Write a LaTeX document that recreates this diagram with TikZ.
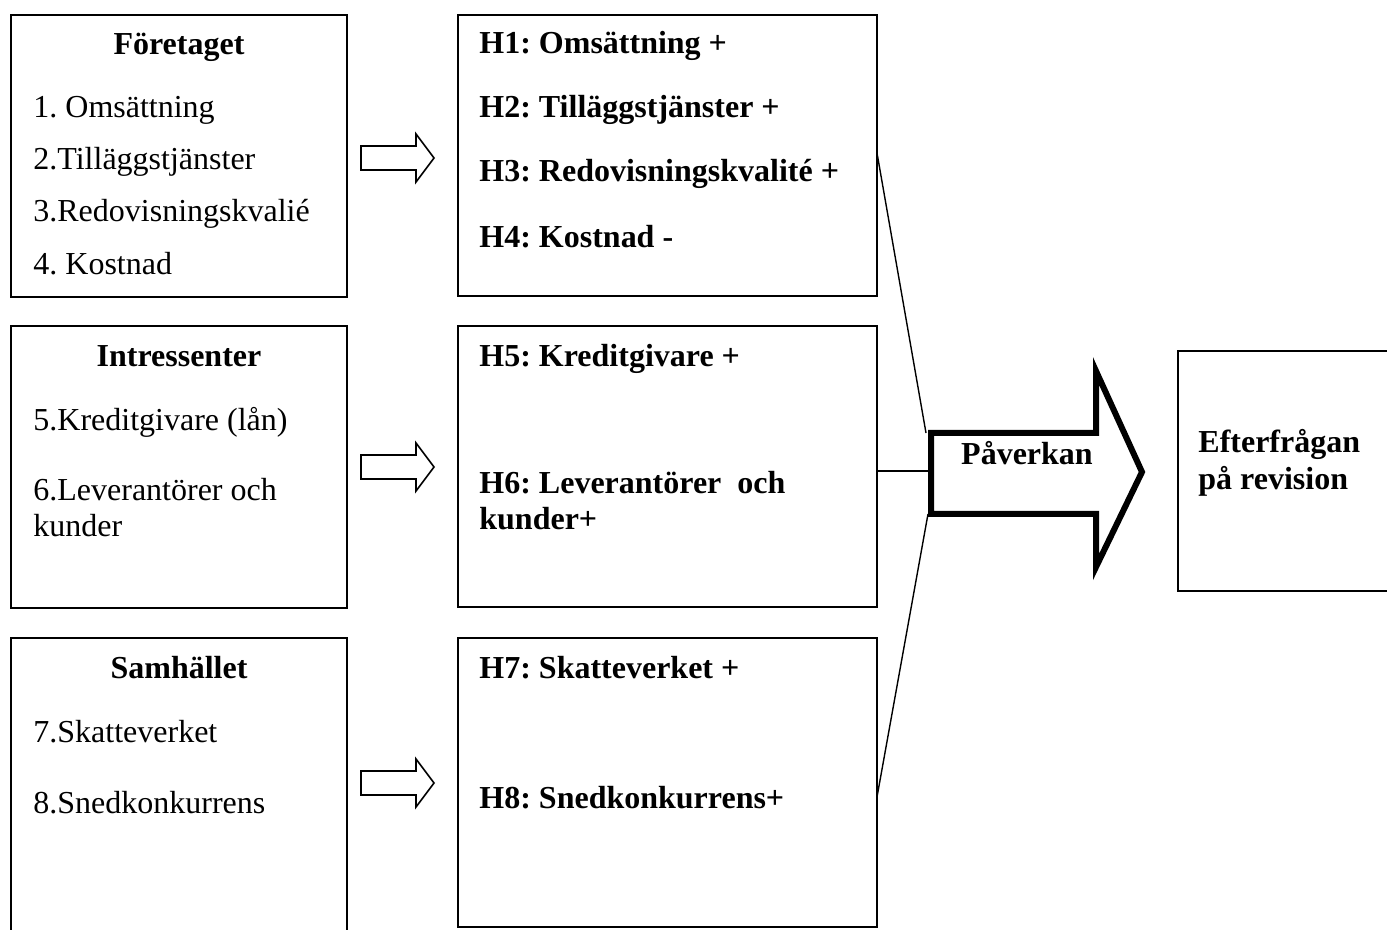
\documentclass[tikz,border=0pt]{standalone}
\usepackage{fontspec}
\setmainfont{Liberation Serif}
\usetikzlibrary{fit}
\begin{document}
\frenchspacing
\begin{tikzpicture}[x=0.5pt,y=-0.5pt,
  box/.style={draw,line width=0.8pt,inner sep=0pt},
  txt/.style={anchor=base west,inner sep=0pt,font=\fontsize{16}{19}\selectfont},
  btxt/.style={txt,font=\fontsize{16}{19}\selectfont\bfseries},
  ctxt/.style={anchor=base,inner sep=0pt,font=\fontsize{16}{19}\selectfont\bfseries},
  hollow/.style={draw,line width=0.8pt,line join=miter,fill=white},
  bigarrow/.style={draw,line width=3pt,line join=miter,miter limit=10,fill=white},
  link/.style={draw,line width=0.7pt}]
\useasboundingbox (0,0) rectangle (1387,930);

% left column: factor groups
\node[box,fit={(11,15) (347,297)}] (g1) {};
\node[box,fit={(11,326) (347,608)}] (g2) {};
\draw[line width=0.8pt] (11,935) -- (11,638) -- (347,638) -- (347,935);
\coordinate (g3) at (179,638);

\node[ctxt] (g1t) at (179,55) {Företaget};
\node[txt] (g1a) at (33,118) {1. Omsättning};
\node[txt] (g1b) at (33,170) {2.Tilläggstjänster};
\node[txt] (g1c) at (33,222) {3.Redovisningskvalié};
\node[txt] (g1d) at (33,275) {4. Kostnad};

\node[ctxt] (g2t) at (179,367) {Intressenter};
\node[txt] (g2a) at (33,431) {5.Kreditgivare (lån)};
\node[txt] (g2b) at (33,501) {6.Leverantörer och};
\node[txt] (g2c) at (33,537) {kunder};

\node[ctxt] (g3t) at (179,678) {Samhället};
\node[txt] (g3a) at (33,742) {7.Skatteverket};
\node[txt] (g3b) at (33,813) {8.Snedkonkurrens};

% middle column: hypotheses
\node[box,fit={(458,15) (877,296)}] (h1) {};
\node[box,fit={(458,326) (877,607)}] (h2) {};
\node[box,fit={(458,638) (877,927)}] (h3) {};

\node[btxt] (h1a) at (479,54) {H1: Omsättning +};
\node[btxt] (h1b) at (479,118) {H2: Tilläggstjänster +};
\node[btxt] (h1c) at (479,182) {H3: Redovisningskvalité +};
\node[btxt] (h1d) at (479,248) {H4: Kostnad -};

\node[btxt] (h2a) at (479,367) {H5: Kreditgivare +};
\node[btxt] (h2b) at (479,494) {H6: Leverantörer\ \ och};
\node[btxt] (h2c) at (479,530) {kunder+};

\node[btxt] (h3a) at (479,678) {H7: Skatteverket +};
\node[btxt] (h3b) at (479,808) {H8: Snedkonkurrens+};

% hollow arrows between the columns
\foreach \dy in {0,309,625}{
  \draw[hollow] (361,146+\dy) -- (416,146+\dy) -- (416,134+\dy) -- (434,158+\dy)
    -- (416,182+\dy) -- (416,170+\dy) -- (361,170+\dy) -- cycle;
}

% big arrow
\draw[bigarrow] (931,433) -- (1096,433) -- (1096,371) -- (1142,472)
  -- (1096,567) -- (1096,514) -- (931,514) -- cycle;
\node[ctxt] (pv) at (1027,465) {Påverkan};

% connectors into the big arrow
\coordinate (s1) at (877,153);
\coordinate (s2) at (877,471);
\coordinate (s3) at (877,797);
\coordinate (e1) at (926,433);
\coordinate (e2) at (929,471);
\coordinate (e3) at (928,514);
\draw[link] (s1) -- (e1);
\draw[link] (s2) -- (e2);
\draw[link] (s3) -- (e3);

% result box (open to the right)
\draw[line width=0.8pt] (1392,351) -- (1178,351) -- (1178,591) -- (1392,591);
\node[btxt] (r1) at (1198,453) {Efterfrågan};
\node[btxt] (r2) at (1198,490) {på revision};
\end{tikzpicture}
\end{document}
